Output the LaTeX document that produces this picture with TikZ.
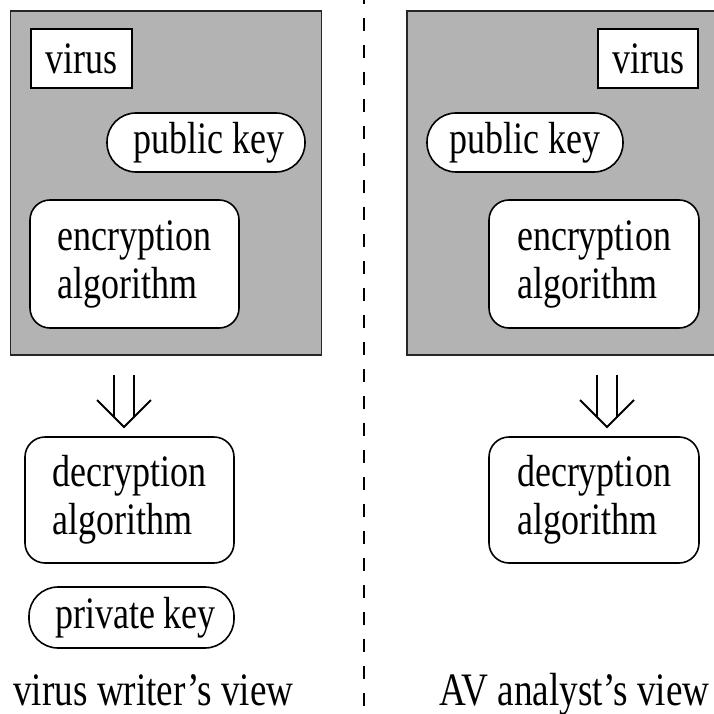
\documentclass[tikz,border=0pt]{standalone}
\usepackage{fontspec}
\setmainfont{Liberation Serif}[FakeStretch=0.8]
\definecolor{panelgray}{RGB}{179,179,179}
\begin{document}
\begin{tikzpicture}[x=1pt,y=-1pt,
  every node/.style={font=\fontsize{45}{48}\selectfont},
  wbox/.style={draw,line width=1.6pt,fill=white,inner sep=0pt},
  sqbox/.style={wbox,minimum height=59pt},
  pill/.style={wbox,rounded corners=29pt},
  rbox/.style={wbox,rounded corners=20pt,align=left},
  panel/.style={draw=black!85,line width=1.2pt,fill=panelgray,inner sep=0pt},
  caption/.style={anchor=base,font=\fontsize{46.5}{48}\selectfont},
  arr/.style={line width=1.8pt,line join=miter},
  sep/.style={line width=1.8pt,dash pattern=on 13pt off 14pt,dash phase=9pt}]
\useasboundingbox (0,0) rectangle (713,714);
\fill[white] (0,0) rectangle (713,714);
% panels
\node[panel,minimum width=311pt,minimum height=344pt] (L) at (166.2,183) {};
\node[panel,minimum width=318pt,minimum height=344pt] (R) at (566,183) {};
% separator
\coordinate (Dt) at (364,0);
\coordinate (Db) at (364,714);
\draw[sep] (Dt) -- (Db);
% left side
\node[sqbox,minimum width=101pt] (Lv) at (81.5,58.5) {virus};
\node[pill,minimum width=198pt,minimum height=59pt] (Lp) at (206,142.5) {\hspace*{6pt}public key};
\node[rbox,minimum width=209pt,minimum height=128pt] (Le) at (134.5,264) {encryption\\algorithm\hspace*{6pt}};
\node[rbox,minimum width=209pt,minimum height=126pt] (Ld) at (129.5,500) {decryption\\algorithm\hspace*{6pt}};
\node[pill,minimum width=205pt,minimum height=61pt] (Lk) at (131.5,617.5) {\hspace*{8pt}private key};
\node[caption] (Lt) at (153.5,705) {virus writer’s view};
% right side
\node[sqbox,minimum width=100pt] (Rv) at (648,58.5) {virus};
\node[pill,minimum width=196pt,minimum height=59pt] (Rp) at (525,142.5) {public key};
\node[rbox,minimum width=210pt,minimum height=128pt] (Re) at (594,264) {encryption\\algorithm};
\node[rbox,minimum width=210pt,minimum height=126pt] (Rd) at (594,500) {decryption\\algorithm};
\node[caption] (Rt) at (574.5,705) {AV analyst’s view};
% arrows
\coordinate (La) at (124,375);
\coordinate (Lb) at (124,427);
\draw[arr] ([xshift=-10pt]La) -- ([xshift=-10pt,yshift=10pt]Lb);
\draw[arr] ([xshift=10pt]La) -- ([xshift=10pt,yshift=10pt]Lb);
\draw[arr] (Lb) ++(-27,-27) -- (Lb) -- ++(27,-27);
\coordinate (Ra) at (607,375);
\coordinate (Rb) at (607,427);
\draw[arr] ([xshift=-10pt]Ra) -- ([xshift=-10pt,yshift=10pt]Rb);
\draw[arr] ([xshift=10pt]Ra) -- ([xshift=10pt,yshift=10pt]Rb);
\draw[arr] (Rb) ++(-27,-27) -- (Rb) -- ++(27,-27);
\end{tikzpicture}
\end{document}
